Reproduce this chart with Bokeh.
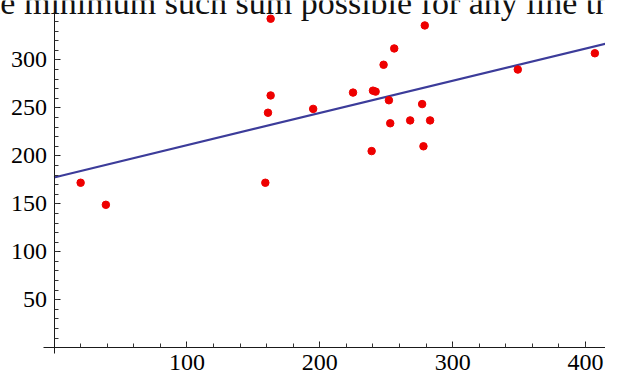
import numpy as np
from bokeh.plotting import figure
from bokeh.models import Range1d, FixedTicker, LinearAxis, Label
from bokeh.embed import file_html
from bokeh.resources import INLINE

# ---- data ----
x_vals = [163, 279, 256, 248, 163, 225, 240, 242, 252, 277, 161, 195,
          253, 268, 283, 239, 278, 159, 20, 39, 349, 407]
y_vals = [343, 336, 312, 295, 263, 266, 268, 267, 258, 254, 245, 249,
          234, 237, 237, 205, 210, 172, 172, 149, 290, 307]

fit_intercept = 177.5
fit_slope = 0.336
fit_domain = [0, 430]

x_major = [100, 200, 300, 400]
x_minor = list(range(20, 420, 20))
y_major = [50, 100, 150, 200, 250, 300]
y_minor = list(range(10, 350, 10))

caption = "the minimum such sum possible for any line the"

# ---- figure ----
p = figure(width=605, height=376,
           x_range=Range1d(-40.3, 415.0), y_range=Range1d(-30, 362),
           output_backend="svg", toolbar_location=None,
           x_axis_location=None, y_axis_location=None,
           min_border=0)
p.grid.visible = False
p.outline_line_color = None
p.background_fill_color = "white"
p.border_fill_color = "white"

font = "Liberation Serif"

xaxis = LinearAxis(fixed_location=0, bounds=(-8, 430),
                   ticker=FixedTicker(ticks=x_major, minor_ticks=x_minor),
                   major_tick_in=6, major_tick_out=0,
                   minor_tick_in=4, minor_tick_out=0,
                   axis_line_color="#1a1a1a", major_tick_line_color="#1a1a1a",
                   minor_tick_line_color="#333333",
                   major_label_text_font=font, major_label_text_font_size="24px",
                   major_label_text_color="#000000", major_label_standoff=7)
p.add_layout(xaxis, "below")

yaxis = LinearAxis(fixed_location=0, bounds=(-6.5, 350),
                   ticker=FixedTicker(ticks=y_major, minor_ticks=y_minor),
                   major_tick_in=6, major_tick_out=0,
                   minor_tick_in=4, minor_tick_out=0,
                   axis_line_color="#1a1a1a", major_tick_line_color="#1a1a1a",
                   minor_tick_line_color="#333333",
                   major_label_text_font=font, major_label_text_font_size="24px",
                   major_label_text_color="#000000", major_label_standoff=7)
p.add_layout(yaxis, "left")

fx = np.array(fit_domain, dtype=float)
p.line(fx, fit_intercept + fit_slope * fx, line_color="#3c3c9a", line_width=2.2)

p.scatter(x_vals, y_vals, size=7.5, fill_color="#ee0000", line_color="#ee0000")

p.add_layout(Label(x=-60.3, y=360, text=caption, text_font=font,
                   text_font_size="34px", text_baseline="alphabetic",
                   text_align="left", text_color="#111111"))

open("out.html", "w").write(file_html(p, INLINE))
